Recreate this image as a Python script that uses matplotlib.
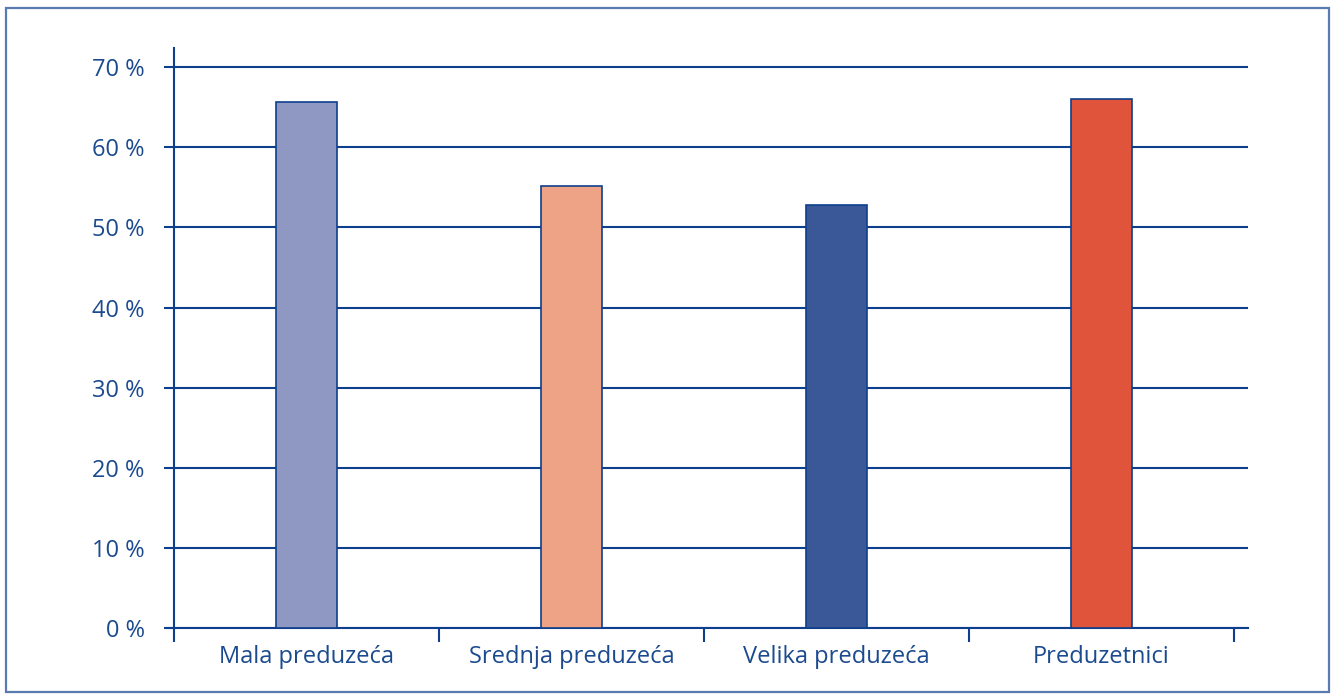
import matplotlib
matplotlib.use("Agg")
import matplotlib.pyplot as plt
from matplotlib.patches import Rectangle
from matplotlib.ticker import FixedLocator, FuncFormatter

categories = ["Mala preduzeća", "Srednja preduzeća", "Velika preduzeća", "Preduzetnici"]
values = [65.6, 55.2, 52.8, 66.0]
colors = ["#8F98C3", "#EEA386", "#3A5898", "#DF543A"]
yticks = [0, 10, 20, 30, 40, 50, 60, 70]

navy = "#0E3F8C"
text_col = "#1B4A8E"

plt.rcParams['font.family'] = ['Open Sans', 'DejaVu Sans']

fig = plt.figure(figsize=(13.35, 7), dpi=100)
# outer frame
fig.patches.append(Rectangle((6 / 1335, 8 / 700), 1323 / 1335, 684 / 700,
                             transform=fig.transFigure, fill=False,
                             edgecolor="#5A7BB0", linewidth=1.6))

ax = fig.add_axes([174 / 1335, 72 / 700, 1074 / 1335, 580 / 700])
x = list(range(len(categories)))
ax.bar(x, values, width=0.23, color=colors, edgecolor=navy, linewidth=1.2, zorder=3)

ax.set_xlim(-0.5, 3.553)
ax.set_ylim(0, 72.4)

ax.yaxis.set_major_locator(FixedLocator(yticks))
ax.yaxis.set_major_formatter(FuncFormatter(lambda v, p: "%d %%" % v))
ax.grid(axis='y', color=navy, linewidth=1.5, zorder=1)

ax.xaxis.set_major_locator(FixedLocator([-0.5, 0.5, 1.5, 2.5, 3.5]))
ax.xaxis.set_major_formatter(FuncFormatter(lambda v, p: ""))
ax.xaxis.set_minor_locator(FixedLocator(x))
ax.xaxis.set_minor_formatter(FuncFormatter(lambda v, p: categories[int(round(v))]))
ax.tick_params(axis='x', which='major', direction='out', length=10, width=1.5, color=navy)
ax.tick_params(axis='x', which='minor', length=0, pad=12, labelsize=17, labelcolor=text_col)
ax.tick_params(axis='y', direction='out', length=7, width=1.5, color=navy,
               labelsize=17, labelcolor=text_col, pad=14)

for s in ['top', 'right']:
    ax.spines[s].set_visible(False)
for s in ['left', 'bottom']:
    ax.spines[s].set_color(navy)
    ax.spines[s].set_linewidth(1.5)
ax.spines['bottom'].set_bounds(-0.5 - 7 / 265.5, 3.553)

fig.savefig("out.png", dpi=100)
